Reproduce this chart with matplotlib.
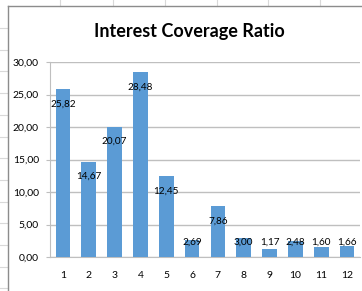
import matplotlib
matplotlib.use("Agg")
import matplotlib.pyplot as plt
from matplotlib.lines import Line2D

categories = ["1", "2", "3", "4", "5", "6", "7", "8", "9", "10", "11", "12"]
values = [25.82, 14.67, 20.07, 28.48, 12.45, 2.69, 7.86, 3.00, 1.17, 2.48, 1.60, 1.66]
yticks = [0, 5, 10, 15, 20, 25, 30]
title = "Interest Coverage Ratio"

plt.rcParams['font.family'] = ['Lato', 'DejaVu Sans']

W, H = 362, 291
fig = plt.figure(figsize=(W / 100, H / 100), dpi=100)
fig.patch.set_facecolor("white")

# spreadsheet background cell lines
cell = "#d9d9d9"
for x in [60, 113, 165, 217, 268, 320]:
    fig.add_artist(Line2D([x / W, x / W], [1, 1 - 6 / H], color=cell, lw=0.8))
y = 28
while y < H:
    fig.add_artist(Line2D([0, 8 / W], [1 - y / H, 1 - y / H], color=cell, lw=0.8))
    y += 21.7
# chart area border
fig.add_artist(Line2D([8 / W, 8 / W], [0, 1 - 6 / H], color="#8c8c8c", lw=1.0))
fig.add_artist(Line2D([8 / W, 1], [1 - 6 / H, 1 - 6 / H], color="#8c8c8c", lw=1.0))

ax = fig.add_axes([50 / W, 1 - 257 / H, 310 / W, 195 / H])
x = list(range(len(categories)))
ax.bar(x, values, width=0.57, color="#5B9BD5", zorder=3)
ax.set_xlim(-0.5, len(categories) - 0.5)
ax.set_ylim(0, 30)
ax.set_yticks(yticks)
ax.set_yticklabels([f"{t:.2f}".replace(".", ",") for t in yticks], fontsize=7.5)
ax.set_xticks(x)
ax.set_xticklabels(categories, fontsize=7.5)
ax.yaxis.grid(True, color="#bfbfbf", lw=1.0, zorder=0)
for s in ["top", "right"]:
    ax.spines[s].set_visible(False)
ax.spines["left"].set_color("#bfbfbf")
ax.spines["bottom"].set_color("#bfbfbf")
ax.tick_params(axis="y", length=3, color="#bfbfbf", pad=5)
ax.tick_params(axis="x", length=0, pad=10)

for xi, v in zip(x, values):
    lbl = f"{v:.2f}".replace(".", ",")
    if v > 4.6:
        ax.annotate(lbl, (xi, v), xytext=(0, -10.8), textcoords="offset points",
                    ha="center", va="center", fontsize=7.2, zorder=4)
    else:
        ax.annotate(lbl, (xi, 0), xytext=(0, 10.8), textcoords="offset points",
                    ha="center", va="center", fontsize=7.2, zorder=4)

fig.text(189 / W, 1 - 32 / H, title, ha="center", va="center", fontsize=13, fontweight="bold")

fig.savefig("out.png", dpi=100)
